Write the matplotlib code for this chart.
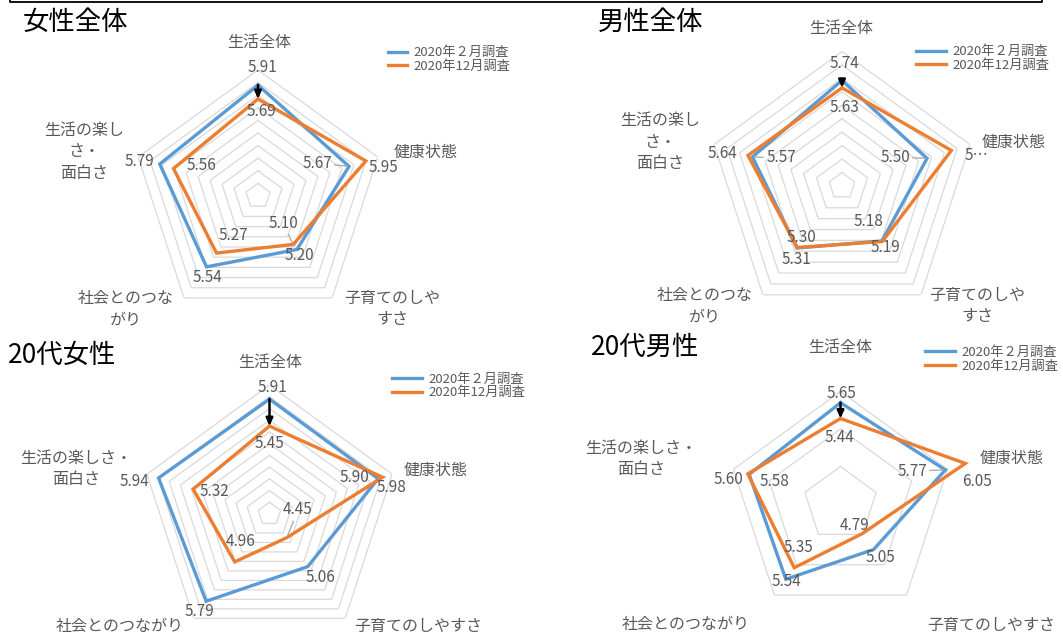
import numpy as np
import matplotlib
matplotlib.use('Agg')
import matplotlib.pyplot as plt
from matplotlib.lines import Line2D

plt.rcParams['font.family'] = ['Noto Sans CJK JP', 'DejaVu Sans']

# categories, clockwise from the top
categories = ['生活全体', '健康状態', '子育てのしやすさ', '社会とのつながり', '生活の楽しさ・面白さ']
series_names = ['2020年２月調査', '2020年12月調査']
titles = ['女性全体', '男性全体', '20代女性', '20代男性']

# scores per group: February survey / December survey
women_feb = [5.91, 5.67, 5.20, 5.54, 5.79]
women_dec = [5.69, 5.95, 5.10, 5.27, 5.56]
men_feb = [5.74, 5.50, 5.18, 5.31, 5.57]
men_dec = [5.63, 5.88, 5.19, 5.30, 5.64]
women20_feb = [5.91, 5.90, 5.06, 5.79, 5.94]
women20_dec = [5.45, 5.98, 4.45, 4.96, 5.32]
men20_feb = [5.65, 5.77, 5.05, 5.54, 5.58]
men20_dec = [5.44, 6.05, 4.79, 5.35, 5.60]

W, H = 1063, 636
BLUE = '#5B9BD5'
ORANGE = '#ED7D31'
GRID = '#d9d9d9'
TXT = '#595959'

# how the category names wrap in the narrow / wide panels
narrow_cats = [['生活全体'], ['健康状態'], ['子育てのしや', 'すさ'], ['社会とのつな', 'がり'],
               ['生活の楽し', 'さ・', '面白さ']]
wide_cats = [['生活全体'], ['健康状態'], ['子育てのしやすさ'], ['社会とのつながり'],
             ['生活の楽しさ・', '面白さ']]
LINE_STEP = 21.5

# layout of each panel (pixel positions measured from the top-left corner)
panels = [
    dict(feb=women_feb, dec=women_dec, center=(258, 196), vmin=4.15, vmax=6.15, ppu=63,
         rings=np.arange(1, 11) * 0.2 + 4.15, title_xy=(23, 22), cat_text=narrow_cats,
         cat_xy=[(259, 43), (426, 152), (392, 309), (126, 309), (84, 152)],
         legend_xy=(388, 59.5), handle=1.45,
         feb_xy=[(262, 67), (317, 163), (299, 255), (207, 277), (139, 161)],
         dec_xy=[(261, 112), (383, 168), (283, 223), (233, 236), (201, 166)],
         feb_leader=[1], dec_leader=[2], dec_text={}),
    dict(feb=men_feb, dec=men_dec, center=(842, 186), vmin=4.17, vmax=6.17, ppu=67.25,
         rings=np.arange(1, 11) * 0.2 + 4.17, title_xy=(598, 22), cat_text=narrow_cats,
         cat_xy=[(841, 28), (1014, 142), (977, 306), (705, 306), (660, 142)],
         legend_xy=(916, 58.7), handle=2.25,
         feb_xy=[(844, 63), (895, 157), (869, 222), (796, 259), (781, 158)],
         dec_xy=[(844, 108), (976, 155), (885, 248), (801, 237), (722, 154)],
         feb_leader=[1, 4], dec_leader=[], dec_text={1: '5…'}),
    dict(feb=women20_feb, dec=women20_dec, center=(269.5, 514), vmin=3.95, vmax=6.15, ppu=58.6,
         rings=np.arange(1, 12) * 0.2 + 3.95, title_xy=(8, 355), cat_text=wide_cats,
         cat_xy=[(270, 362), (436, 470), (418, 626), (120, 626), (76, 469)],
         legend_xy=(392, 385.8), handle=2.25,
         feb_xy=[(272, 388), (354, 477), (320, 577), (199, 612), (134, 481)],
         dec_xy=[(269, 444), (392, 487), (298, 510), (241, 542), (214, 492)],
         feb_leader=[], dec_leader=[2], dec_text={}),
    dict(feb=men20_feb, dec=men20_dec, center=(840.5, 504), vmin=4.3, vmax=6.15, ppu=75,
         rings=[4.8, 5.3, 5.8], title_xy=(591, 347), cat_text=wide_cats,
         cat_xy=[(840, 347), (1012, 458), (991, 625), (686, 625), (641, 459)],
         legend_xy=(925, 359.2), handle=2.25,
         feb_xy=[(841, 393), (912, 471), (880, 558), (786, 582), (775, 482)],
         dec_xy=[(839, 437), (977, 482), (855, 525), (798, 547), (728, 479)],
         feb_leader=[1], dec_leader=[], dec_text={}),
]

fig = plt.figure(figsize=(W / 100, H / 100), dpi=100)

angles = np.linspace(0, 2 * np.pi, len(categories), endpoint=False)
closed = np.append(angles, angles[0])

for title, p in zip(titles, panels):
    cx, cy = p['center']
    R = (p['vmax'] - p['vmin']) * p['ppu']
    ax = fig.add_axes([(cx - R) / W, (H - cy - R) / H, 2 * R / W, 2 * R / H], projection='polar')
    ax.set_theta_offset(np.pi / 2)
    ax.set_theta_direction(-1)
    ax.set_ylim(p['vmin'], p['vmax'])
    ax.axis('off')

    # pentagon gridlines
    for level in p['rings']:
        ax.plot(closed, [level] * len(closed), color=GRID, lw=0.9, zorder=1)

    feb = np.append(p['feb'], p['feb'][0])
    dec = np.append(p['dec'], p['dec'][0])
    l1, = ax.plot(closed, feb, color=BLUE, lw=2.4, zorder=3, solid_joinstyle='miter')
    l2, = ax.plot(closed, dec, color=ORANGE, lw=2.4, zorder=4, solid_joinstyle='miter')

    # arrow showing the drop in overall life score
    ax.annotate('', xy=(angles[0], p['dec'][0]), xytext=(angles[0], p['feb'][0]),
                arrowprops=dict(arrowstyle='-|>,head_length=0.45,head_width=0.2', color='black',
                                lw=1.8, shrinkA=0, shrinkB=0), zorder=5, annotation_clip=False)

    # data labels
    for vals, xy, leaders, override in [(p['feb'], p['feb_xy'], p['feb_leader'], {}),
                                        (p['dec'], p['dec_xy'], p['dec_leader'], p['dec_text'])]:
        for i, v in enumerate(vals):
            tx, ty = xy[i]
            props = None
            if i in leaders:
                props = dict(arrowstyle='-', color='#a6a6a6', lw=0.9, shrinkA=0, shrinkB=1)
            ax.annotate(override.get(i, f'{v:.2f}'), xy=(angles[i], v), xytext=(tx, H - ty),
                        textcoords='figure pixels', ha='center', va='center', fontsize=11,
                        color=TXT, arrowprops=props, annotation_clip=False, zorder=6)

    # category labels, one text per wrapped line
    for lines, (tx, ty) in zip(p['cat_text'], p['cat_xy']):
        for k, line in enumerate(lines):
            y = ty + (k - (len(lines) - 1) / 2) * LINE_STEP
            fig.text(tx / W, 1 - y / H, line, ha='center', va='center', fontsize=11.5, color=TXT)

    fig.text(p['title_xy'][0] / W, 1 - p['title_xy'][1] / H, title, ha='left', va='center',
             fontsize=19, color='black')

    lx, ly = p['legend_xy']
    ax.legend([l1, l2], series_names, loc='center left', bbox_to_anchor=(lx / W, 1 - ly / H),
              bbox_transform=fig.transFigure, frameon=False, fontsize=9.5, labelcolor=TXT,
              handlelength=p['handle'], handletextpad=0.5, borderpad=0, borderaxespad=0,
              labelspacing=0.05)

# frame edge at the very top
fig.add_artist(Line2D([10 / W, 10 / W, 1042 / W, 1042 / W], [1, 1 - 1.5 / H, 1 - 1.5 / H, 1],
                      transform=fig.transFigure, color='black', lw=1.3))

fig.savefig('out.png', dpi=100)
